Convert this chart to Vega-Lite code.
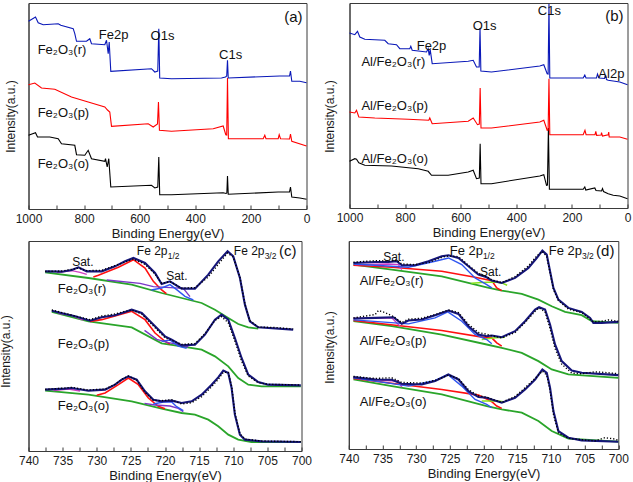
{
"$schema":"https://vega.github.io/schema/vega-lite/v6.json",
"padding":{"left":-1.5,"top":1,"right":0,"bottom":0},
"config":{
 "font":"Liberation Sans",
 "view":{"stroke":"#3a3a3a","strokeWidth":1},
 "axis":{"grid":false,"domainColor":"#3a3a3a","tickColor":"#3a3a3a","labelColor":"#1a1a1a","titleColor":"#1a1a1a","labelFont":"Liberation Sans","titleFont":"Liberation Sans","titleFontWeight":"normal"},
 "axisX":{"labelFontSize":12,"titleFontSize":13,"tickSize":-4,"labelPadding":8,"titlePadding":3,"labelOverlap":false,"labelFlush":false},
 "axisY":{"labels":false,"ticks":false,"titleFontSize":12,"titleAngle":-90,"titleBaseline":"bottom","titleAlign":"center"},
 "text":{"font":"Liberation Sans","color":"#111"}
},
"datasets":{
 "a":[
  {"s":"r","E":1000,"I":187.7},{"s":"r","E":974.8,"I":192},{"s":"r","E":965.1,"I":186.3},{"s":"r","E":947.1,"I":184.3},{"s":"r","E":893.2,"I":185.3},{"s":"r","E":883.8,"I":183.7},{"s":"r","E":839.2,"I":180.3},{"s":"r","E":833.5,"I":175.3},{"s":"r","E":827.3,"I":167.7},{"s":"r","E":791.4,"I":167.7},{"s":"r","E":779.5,"I":170.3},{"s":"r","E":773.4,"I":165.3},{"s":"r","E":725.5,"I":164.3},{"s":"r","E":719.4,"I":168.7},{"s":"r","E":713.3,"I":155.3},{"s":"r","E":709.7,"I":167},{"s":"r","E":704,"I":137.7},{"s":"r","E":557.6,"I":140.3},{"s":"r","E":545.7,"I":137},{"s":"r","E":535,"I":138},{"s":"r","E":531.3,"I":180.3},{"s":"r","E":528,"I":131},{"s":"r","E":485.6,"I":130.3},{"s":"r","E":305.8,"I":131},{"s":"r","E":291.4,"I":132},{"s":"r","E":287,"I":133},{"s":"r","E":284.2,"I":148.7},{"s":"r","E":281.5,"I":131},{"s":"r","E":96,"I":133},{"s":"r","E":61,"I":133},{"s":"r","E":57.6,"I":138},{"s":"r","E":52.9,"I":127.7},{"s":"r","E":24.1,"I":127.7},{"s":"r","E":0,"I":126.3},
  {"s":"p","E":1000,"I":124.3},{"s":"p","E":977.3,"I":126},{"s":"p","E":953.2,"I":121},{"s":"p","E":905.4,"I":119.7},{"s":"p","E":845.3,"I":112},{"s":"p","E":785.3,"I":107},{"s":"p","E":725.5,"I":102},{"s":"p","E":715.8,"I":99},{"s":"p","E":707.6,"I":97},{"s":"p","E":701.4,"I":82.7},{"s":"p","E":569.4,"I":85.3},{"s":"p","E":551.4,"I":82},{"s":"p","E":536,"I":85},{"s":"p","E":532.5,"I":107},{"s":"p","E":529,"I":78.7},{"s":"p","E":485.6,"I":77.7},{"s":"p","E":335.6,"I":80.3},{"s":"p","E":299.7,"I":83},{"s":"p","E":290.3,"I":74.3},{"s":"p","E":287,"I":74},{"s":"p","E":284.2,"I":131},{"s":"p","E":281,"I":70.3},{"s":"p","E":155.8,"I":70.3},{"s":"p","E":150,"I":73.7},{"s":"p","E":145.7,"I":70.3},{"s":"p","E":101.8,"I":70.3},{"s":"p","E":98.2,"I":74.3},{"s":"p","E":93.5,"I":70.3},{"s":"p","E":61,"I":70},{"s":"p","E":57.6,"I":75},{"s":"p","E":52.9,"I":67.7},{"s":"p","E":0,"I":63},
  {"s":"o","E":1000,"I":73.7},{"s":"o","E":974.8,"I":76.3},{"s":"o","E":967.6,"I":72},{"s":"o","E":923.4,"I":72},{"s":"o","E":893.2,"I":70.3},{"s":"o","E":881.3,"I":65.3},{"s":"o","E":833.5,"I":63.7},{"s":"o","E":827.3,"I":54.3},{"s":"o","E":797.5,"I":53.7},{"s":"o","E":785.3,"I":58.7},{"s":"o","E":773.4,"I":50.3},{"s":"o","E":725.5,"I":47.7},{"s":"o","E":723,"I":50.3},{"s":"o","E":716.9,"I":42},{"s":"o","E":711.2,"I":50.3},{"s":"o","E":704,"I":22},{"s":"o","E":557.6,"I":23.7},{"s":"o","E":545.7,"I":21},{"s":"o","E":535,"I":22},{"s":"o","E":531.3,"I":52},{"s":"o","E":528,"I":14.3},{"s":"o","E":485.6,"I":14.3},{"s":"o","E":299.7,"I":16.3},{"s":"o","E":289.6,"I":15.5},{"s":"o","E":286.5,"I":16},{"s":"o","E":284.2,"I":33},{"s":"o","E":281.5,"I":14.7},{"s":"o","E":101.8,"I":17},{"s":"o","E":61.2,"I":17},{"s":"o","E":57.6,"I":22},{"s":"o","E":52.9,"I":12},{"s":"o","E":24.1,"I":11},{"s":"o","E":0,"I":9.7}
 ],
 "b":[
  {"s":"r","E":1000,"I":175},{"s":"r","E":980.9,"I":173.3},{"s":"r","E":971.2,"I":176.7},{"s":"r","E":962.9,"I":171},{"s":"r","E":945,"I":168.7},{"s":"r","E":873,"I":167.7},{"s":"r","E":860.8,"I":164.3},{"s":"r","E":830.9,"I":163.3},{"s":"r","E":819.1,"I":159.3},{"s":"r","E":783.1,"I":159.3},{"s":"r","E":779.5,"I":161.7},{"s":"r","E":774.5,"I":157.7},{"s":"r","E":723,"I":156},{"s":"r","E":716.9,"I":159.3},{"s":"r","E":713.3,"I":152.7},{"s":"r","E":709.7,"I":158.3},{"s":"r","E":702.5,"I":144.3},{"s":"r","E":573,"I":146.7},{"s":"r","E":555,"I":147.7},{"s":"r","E":543.2,"I":141},{"s":"r","E":533.5,"I":141},{"s":"r","E":530.5,"I":180},{"s":"r","E":527.5,"I":137},{"s":"r","E":489.3,"I":136},{"s":"r","E":315.5,"I":142},{"s":"r","E":301.1,"I":143.3},{"s":"r","E":288.9,"I":134.3},{"s":"r","E":285.5,"I":134},{"s":"r","E":282.5,"I":204},{"s":"r","E":279.5,"I":130},{"s":"r","E":159.4,"I":130},{"s":"r","E":153.6,"I":133},{"s":"r","E":149.3,"I":130},{"s":"r","E":111.5,"I":130},{"s":"r","E":107.9,"I":134},{"s":"r","E":102.5,"I":130},{"s":"r","E":82.7,"I":129.5},{"s":"r","E":79.1,"I":133},{"s":"r","E":75.5,"I":128.5},{"s":"r","E":69.4,"I":127.7},{"s":"r","E":27.7,"I":126},{"s":"r","E":0,"I":123.3},
  {"s":"p","E":1000,"I":96},{"s":"p","E":980.9,"I":95},{"s":"p","E":974.8,"I":97.7},{"s":"p","E":966.5,"I":91},{"s":"p","E":909,"I":90},{"s":"p","E":788.8,"I":88.7},{"s":"p","E":714.8,"I":87.7},{"s":"p","E":711.2,"I":90},{"s":"p","E":702.5,"I":84.3},{"s":"p","E":573,"I":86.7},{"s":"p","E":555,"I":90},{"s":"p","E":539.6,"I":83.3},{"s":"p","E":533,"I":84},{"s":"p","E":530,"I":120},{"s":"p","E":527,"I":80},{"s":"p","E":489.3,"I":80},{"s":"p","E":315.5,"I":86},{"s":"p","E":301.1,"I":87.7},{"s":"p","E":288.9,"I":77.7},{"s":"p","E":285.5,"I":78},{"s":"p","E":282.5,"I":129.3},{"s":"p","E":279.5,"I":73.3},{"s":"p","E":159.4,"I":73.3},{"s":"p","E":153,"I":77.7},{"s":"p","E":149,"I":73.3},{"s":"p","E":116.9,"I":73.3},{"s":"p","E":114,"I":76.7},{"s":"p","E":111,"I":72.7},{"s":"p","E":95,"I":73},{"s":"p","E":93.5,"I":75.3},{"s":"p","E":90,"I":72},{"s":"p","E":69.4,"I":73.3},{"s":"p","E":67.5,"I":76},{"s":"p","E":65.8,"I":71},{"s":"p","E":27.7,"I":71},{"s":"p","E":0,"I":68.7},
  {"s":"o","E":1000,"I":46.7},{"s":"o","E":980.9,"I":49.3},{"s":"o","E":974.8,"I":48.7},{"s":"o","E":966.5,"I":45.3},{"s":"o","E":945,"I":42.7},{"s":"o","E":848.9,"I":42},{"s":"o","E":752.9,"I":39.3},{"s":"o","E":716.9,"I":36.7},{"s":"o","E":705,"I":32.7},{"s":"o","E":645,"I":32.7},{"s":"o","E":573,"I":36},{"s":"o","E":555,"I":37.7},{"s":"o","E":543.2,"I":29.3},{"s":"o","E":533,"I":30},{"s":"o","E":530,"I":64.3},{"s":"o","E":527,"I":24.3},{"s":"o","E":489.3,"I":24.3},{"s":"o","E":315.5,"I":32},{"s":"o","E":301.1,"I":33.3},{"s":"o","E":291.4,"I":22.7},{"s":"o","E":288,"I":23},{"s":"o","E":284.5,"I":80},{"s":"o","E":281,"I":18.7},{"s":"o","E":159.4,"I":18.7},{"s":"o","E":153.6,"I":21},{"s":"o","E":150,"I":18},{"s":"o","E":117.6,"I":20},{"s":"o","E":113.3,"I":17.5},{"s":"o","E":93.5,"I":17},{"s":"o","E":89.9,"I":19.5},{"s":"o","E":86.3,"I":16.5},{"s":"o","E":69.4,"I":14.3},{"s":"o","E":51.4,"I":12.7},{"s":"o","E":27.7,"I":12},{"s":"o","E":0,"I":9.3}
 ],
 "c":[
  {"g":"r","s":"env","E":737.56,"I":539},{"g":"r","s":"env","E":735.12,"I":538},{"g":"r","s":"env","E":733.66,"I":543},{"g":"r","s":"env","E":732.68,"I":551},{"g":"r","s":"env","E":731.46,"I":539},{"g":"r","s":"env","E":729.27,"I":539},{"g":"r","s":"env","E":727.32,"I":554},{"g":"r","s":"env","E":725.85,"I":569},{"g":"r","s":"env","E":724.63,"I":579},{"g":"r","s":"env","E":722.93,"I":564},{"g":"r","s":"env","E":721.46,"I":534},{"g":"r","s":"env","E":720.49,"I":501},{"g":"r","s":"env","E":719.27,"I":509},{"g":"r","s":"env","E":717.56,"I":487},{"g":"r","s":"env","E":715.61,"I":487},{"g":"r","s":"env","E":713.66,"I":529},{"g":"r","s":"env","E":712.2,"I":569},{"g":"r","s":"env","E":710.83,"I":599},{"g":"r","s":"env","E":710,"I":584},{"g":"r","s":"env","E":709.02,"I":519},{"g":"r","s":"env","E":708.29,"I":439},{"g":"r","s":"env","E":707.56,"I":389},{"g":"r","s":"env","E":706.34,"I":371},{"g":"r","s":"env","E":701.22,"I":364},
  {"g":"r","s":"bg","E":737.56,"I":536},{"g":"r","s":"bg","E":731.22,"I":519},{"g":"r","s":"bg","E":724.88,"I":499},{"g":"r","s":"bg","E":720.49,"I":474},{"g":"r","s":"bg","E":717.56,"I":459},{"g":"r","s":"bg","E":714.63,"I":444},{"g":"r","s":"bg","E":712.68,"I":424},{"g":"r","s":"bg","E":710.73,"I":399},{"g":"r","s":"bg","E":709.27,"I":381},{"g":"r","s":"bg","E":707.8,"I":371},{"g":"r","s":"bg","E":706.34,"I":367},
  {"g":"r","s":"red","E":730.5,"I":522},{"g":"r","s":"red","E":729.76,"I":527},{"g":"r","s":"red","E":726.83,"I":551},{"g":"r","s":"red","E":724.63,"I":574},{"g":"r","s":"red","E":722.93,"I":549},{"g":"r","s":"red","E":721.71,"I":509},{"g":"r","s":"red","E":720.49,"I":483},{"g":"r","s":"red","E":719.8,"I":472},
  {"g":"r","s":"blue","E":722.0,"I":483},{"g":"r","s":"blue","E":720.49,"I":489},{"g":"r","s":"blue","E":719.27,"I":499},{"g":"r","s":"blue","E":718.29,"I":484},{"g":"r","s":"blue","E":717.07,"I":464},{"g":"r","s":"blue","E":715.85,"I":453},
  {"g":"r","s":"pur","E":728.54,"I":513},{"g":"r","s":"pur","E":723.66,"I":503},{"g":"r","s":"pur","E":721.71,"I":493},{"g":"r","s":"pur","E":717.32,"I":488},{"g":"r","s":"pur","E":716.34,"I":463},
  {"g":"r","s":"mag","E":735.85,"I":535},{"g":"r","s":"mag","E":733.66,"I":541},{"g":"r","s":"mag","E":732.44,"I":536},{"g":"r","s":"mag","E":731.46,"I":530},
  {"g":"r","s":"dot","E":737.56,"I":539},{"g":"r","s":"dot","E":735.12,"I":540},{"g":"r","s":"dot","E":733.66,"I":545},{"g":"r","s":"dot","E":732.68,"I":549},{"g":"r","s":"dot","E":731.46,"I":541},{"g":"r","s":"dot","E":729.27,"I":542},{"g":"r","s":"dot","E":727.32,"I":556},{"g":"r","s":"dot","E":725.85,"I":567},{"g":"r","s":"dot","E":724.63,"I":576},{"g":"r","s":"dot","E":722.93,"I":560},{"g":"r","s":"dot","E":721.46,"I":531},{"g":"r","s":"dot","E":720.49,"I":503},{"g":"r","s":"dot","E":719.27,"I":508},{"g":"r","s":"dot","E":717.56,"I":489},{"g":"r","s":"dot","E":715.61,"I":490},{"g":"r","s":"dot","E":713.66,"I":522},{"g":"r","s":"dot","E":712.2,"I":560},{"g":"r","s":"dot","E":710.83,"I":594},{"g":"r","s":"dot","E":710,"I":582},{"g":"r","s":"dot","E":709.02,"I":521},{"g":"r","s":"dot","E":708.29,"I":441},{"g":"r","s":"dot","E":707.56,"I":391},{"g":"r","s":"dot","E":706.34,"I":372},{"g":"r","s":"dot","E":703.5,"I":370},{"g":"r","s":"dot","E":701.22,"I":366},
  {"g":"p","s":"env","E":736.59,"I":421},{"g":"p","s":"env","E":734.63,"I":411},{"g":"p","s":"env","E":733.17,"I":404},{"g":"p","s":"env","E":730.98,"I":391},{"g":"p","s":"env","E":729.27,"I":401},{"g":"p","s":"env","E":727.32,"I":407},{"g":"p","s":"env","E":725.85,"I":417},{"g":"p","s":"env","E":724.88,"I":424},{"g":"p","s":"env","E":723.41,"I":414},{"g":"p","s":"env","E":721.46,"I":374},{"g":"p","s":"env","E":720,"I":344},{"g":"p","s":"env","E":719.02,"I":334},{"g":"p","s":"env","E":717.56,"I":317},{"g":"p","s":"env","E":715.61,"I":319},{"g":"p","s":"env","E":714.15,"I":349},{"g":"p","s":"env","E":712.68,"I":394},{"g":"p","s":"env","E":711.71,"I":409},{"g":"p","s":"env","E":710.73,"I":394},{"g":"p","s":"env","E":709.76,"I":339},{"g":"p","s":"env","E":708.78,"I":279},{"g":"p","s":"env","E":707.8,"I":229},{"g":"p","s":"env","E":706.34,"I":207},{"g":"p","s":"env","E":704.88,"I":199},{"g":"p","s":"env","E":700.1,"I":197},
  {"g":"p","s":"bg","E":736.59,"I":417},{"g":"p","s":"bg","E":731.22,"I":389},{"g":"p","s":"bg","E":724.88,"I":371},{"g":"p","s":"bg","E":720.49,"I":323},{"g":"p","s":"bg","E":717.56,"I":314},{"g":"p","s":"bg","E":714.63,"I":304},{"g":"p","s":"bg","E":712.68,"I":284},{"g":"p","s":"bg","E":710.73,"I":254},{"g":"p","s":"bg","E":709.27,"I":219},{"g":"p","s":"bg","E":707.8,"I":199},{"g":"p","s":"bg","E":705.85,"I":194},{"g":"p","s":"bg","E":700.1,"I":194},
  {"g":"p","s":"red","E":731,"I":389},{"g":"p","s":"red","E":729.27,"I":394},{"g":"p","s":"red","E":724.88,"I":419},{"g":"p","s":"red","E":722.93,"I":394},{"g":"p","s":"red","E":721.46,"I":354},{"g":"p","s":"red","E":720,"I":329},{"g":"p","s":"red","E":719.27,"I":321},
  {"g":"p","s":"blue","E":720.49,"I":329},{"g":"p","s":"blue","E":719.27,"I":333},{"g":"p","s":"blue","E":718.05,"I":315},{"g":"p","s":"blue","E":716.83,"I":308},
  {"g":"p","s":"pur","E":723,"I":362},{"g":"p","s":"pur","E":721.2,"I":335},{"g":"p","s":"pur","E":719.5,"I":325},{"g":"p","s":"pur","E":717.6,"I":318},{"g":"p","s":"pur","E":716.6,"I":312},
  {"g":"p","s":"mag","E":735.61,"I":413},{"g":"p","s":"mag","E":733.66,"I":407},{"g":"p","s":"mag","E":731.95,"I":393},
  {"g":"p","s":"dot","E":736.59,"I":423},{"g":"p","s":"dot","E":734.63,"I":413},{"g":"p","s":"dot","E":733.17,"I":405},{"g":"p","s":"dot","E":730.98,"I":394},{"g":"p","s":"dot","E":729.27,"I":405},{"g":"p","s":"dot","E":727.32,"I":411},{"g":"p","s":"dot","E":725.85,"I":419},{"g":"p","s":"dot","E":724.88,"I":423},{"g":"p","s":"dot","E":723.41,"I":411},{"g":"p","s":"dot","E":721.46,"I":370},{"g":"p","s":"dot","E":720,"I":340},{"g":"p","s":"dot","E":719.02,"I":332},{"g":"p","s":"dot","E":717.56,"I":320},{"g":"p","s":"dot","E":715.61,"I":322},{"g":"p","s":"dot","E":714.15,"I":352},{"g":"p","s":"dot","E":712.68,"I":392},{"g":"p","s":"dot","E":711.71,"I":403},{"g":"p","s":"dot","E":710.73,"I":385},{"g":"p","s":"dot","E":709.76,"I":330},{"g":"p","s":"dot","E":708.78,"I":270},{"g":"p","s":"dot","E":707.8,"I":225},{"g":"p","s":"dot","E":706.34,"I":205},{"g":"p","s":"dot","E":704.88,"I":200},{"g":"p","s":"dot","E":702,"I":199},{"g":"p","s":"dot","E":700.1,"I":198},
  {"g":"o","s":"env","E":737.56,"I":184},{"g":"o","s":"env","E":734.63,"I":187},{"g":"o","s":"env","E":733.66,"I":189},{"g":"o","s":"env","E":731.22,"I":181},{"g":"o","s":"env","E":728.78,"I":184},{"g":"o","s":"env","E":727.32,"I":199},{"g":"o","s":"env","E":726.34,"I":214},{"g":"o","s":"env","E":725.37,"I":224},{"g":"o","s":"env","E":724.15,"I":214},{"g":"o","s":"env","E":722.93,"I":179},{"g":"o","s":"env","E":721.71,"I":154},{"g":"o","s":"env","E":720.49,"I":149},{"g":"o","s":"env","E":719.02,"I":151},{"g":"o","s":"env","E":717.56,"I":144},{"g":"o","s":"env","E":716.1,"I":149},{"g":"o","s":"env","E":714.63,"I":169},{"g":"o","s":"env","E":713.17,"I":199},{"g":"o","s":"env","E":712.2,"I":221},{"g":"o","s":"env","E":711.46,"I":241},{"g":"o","s":"env","E":710.73,"I":234},{"g":"o","s":"env","E":710.24,"I":189},{"g":"o","s":"env","E":709.76,"I":109},{"g":"o","s":"env","E":709.02,"I":49},{"g":"o","s":"env","E":708.29,"I":34},{"g":"o","s":"env","E":705.85,"I":29},{"g":"o","s":"env","E":700.1,"I":27},
  {"g":"o","s":"bg","E":737.56,"I":181},{"g":"o","s":"bg","E":731.22,"I":169},{"g":"o","s":"bg","E":724.88,"I":149},{"g":"o","s":"bg","E":720.49,"I":127},{"g":"o","s":"bg","E":717.56,"I":114},{"g":"o","s":"bg","E":715.61,"I":109},{"g":"o","s":"bg","E":713.66,"I":94},{"g":"o","s":"bg","E":712.2,"I":74},{"g":"o","s":"bg","E":710.73,"I":49},{"g":"o","s":"bg","E":709.27,"I":34},{"g":"o","s":"bg","E":707.32,"I":27},{"g":"o","s":"bg","E":700.1,"I":27},
  {"g":"o","s":"red","E":730,"I":167},{"g":"o","s":"red","E":728.78,"I":174},{"g":"o","s":"red","E":726.83,"I":199},{"g":"o","s":"red","E":725.37,"I":219},{"g":"o","s":"red","E":723.9,"I":199},{"g":"o","s":"red","E":722.44,"I":159},{"g":"o","s":"red","E":720.98,"I":134},{"g":"o","s":"red","E":720,"I":127},
  {"g":"o","s":"blue","E":721.71,"I":141},{"g":"o","s":"blue","E":720.24,"I":147},{"g":"o","s":"blue","E":719.02,"I":147},{"g":"o","s":"blue","E":718.29,"I":133},{"g":"o","s":"blue","E":717.32,"I":121},
  {"g":"o","s":"pur","E":723,"I":143},{"g":"o","s":"pur","E":721.5,"I":138},{"g":"o","s":"pur","E":719.27,"I":135},{"g":"o","s":"pur","E":718.05,"I":128},{"g":"o","s":"pur","E":717.32,"I":118},
  {"g":"o","s":"mag","E":736.34,"I":181},{"g":"o","s":"mag","E":734.15,"I":186},{"g":"o","s":"mag","E":732.44,"I":180},
  {"g":"o","s":"dot","E":737.56,"I":185},{"g":"o","s":"dot","E":734.63,"I":189},{"g":"o","s":"dot","E":733.66,"I":191},{"g":"o","s":"dot","E":731.22,"I":183},{"g":"o","s":"dot","E":728.78,"I":186},{"g":"o","s":"dot","E":727.32,"I":200},{"g":"o","s":"dot","E":726.34,"I":215},{"g":"o","s":"dot","E":725.37,"I":225},{"g":"o","s":"dot","E":724.15,"I":213},{"g":"o","s":"dot","E":722.93,"I":176},{"g":"o","s":"dot","E":721.71,"I":152},{"g":"o","s":"dot","E":720.49,"I":151},{"g":"o","s":"dot","E":719.02,"I":154},{"g":"o","s":"dot","E":717.56,"I":141},{"g":"o","s":"dot","E":716.1,"I":145},{"g":"o","s":"dot","E":714.63,"I":163},{"g":"o","s":"dot","E":713.17,"I":193},{"g":"o","s":"dot","E":712.2,"I":215},{"g":"o","s":"dot","E":711.46,"I":236},{"g":"o","s":"dot","E":710.73,"I":236},{"g":"o","s":"dot","E":710.24,"I":195},{"g":"o","s":"dot","E":709.76,"I":115},{"g":"o","s":"dot","E":709.02,"I":52},{"g":"o","s":"dot","E":708.29,"I":36},{"g":"o","s":"dot","E":705.85,"I":30},{"g":"o","s":"dot","E":700.1,"I":28}
 ],
 "d":[
  {"g":"r","s":"env","E":739.31,"I":559},{"g":"r","s":"env","E":736.09,"I":562},{"g":"r","s":"env","E":734.11,"I":562},{"g":"r","s":"env","E":732.88,"I":564},{"g":"r","s":"env","E":732.14,"I":552},{"g":"r","s":"env","E":730.16,"I":552},{"g":"r","s":"env","E":728.18,"I":564},{"g":"r","s":"env","E":726.2,"I":579},{"g":"r","s":"env","E":725.21,"I":582},{"g":"r","s":"env","E":723.73,"I":574},{"g":"r","s":"env","E":722.24,"I":549},{"g":"r","s":"env","E":720.76,"I":524},{"g":"r","s":"env","E":719.53,"I":516},{"g":"r","s":"env","E":718.78,"I":506},{"g":"r","s":"env","E":717.3,"I":499},{"g":"r","s":"env","E":715.32,"I":514},{"g":"r","s":"env","E":713.34,"I":544},{"g":"r","s":"env","E":712.11,"I":574},{"g":"r","s":"env","E":711.27,"I":596},{"g":"r","s":"env","E":710.62,"I":584},{"g":"r","s":"env","E":710.13,"I":534},{"g":"r","s":"env","E":709.63,"I":484},{"g":"r","s":"env","E":708.89,"I":449},{"g":"r","s":"env","E":707.41,"I":424},{"g":"r","s":"env","E":705.43,"I":412},{"g":"r","s":"env","E":704.19,"I":394},{"g":"r","s":"env","E":703.7,"I":379},{"g":"r","s":"env","E":702.46,"I":379},{"g":"r","s":"env","E":700,"I":382},
  {"g":"r","s":"bg","E":739.31,"I":554},{"g":"r","s":"bg","E":733.62,"I":539},{"g":"r","s":"bg","E":726.2,"I":519},{"g":"r","s":"bg","E":719.53,"I":486},{"g":"r","s":"bg","E":717.3,"I":476},{"g":"r","s":"bg","E":714.33,"I":466},{"g":"r","s":"bg","E":711.86,"I":449},{"g":"r","s":"bg","E":709.88,"I":429},{"g":"r","s":"bg","E":707.9,"I":412},{"g":"r","s":"bg","E":705.43,"I":402},{"g":"r","s":"bg","E":703.95,"I":384},{"g":"r","s":"bg","E":700,"I":379},
  {"g":"r","s":"red","E":739.31,"I":552},{"g":"r","s":"red","E":733.62,"I":546},{"g":"r","s":"red","E":726.2,"I":534},{"g":"r","s":"red","E":721.26,"I":516},{"g":"r","s":"red","E":718.78,"I":506},{"g":"r","s":"red","E":718.04,"I":484},{"g":"r","s":"red","E":717.3,"I":476},
  {"g":"r","s":"blue","E":739.31,"I":556},{"g":"r","s":"blue","E":731.15,"I":546},{"g":"r","s":"blue","E":727.19,"I":564},{"g":"r","s":"blue","E":725.21,"I":574},{"g":"r","s":"blue","E":723.23,"I":554},{"g":"r","s":"blue","E":721.26,"I":514},{"g":"r","s":"blue","E":719.53,"I":494},{"g":"r","s":"blue","E":718.78,"I":484},
  {"g":"r","s":"mag","E":739.06,"I":554},{"g":"r","s":"mag","E":734.11,"I":556},{"g":"r","s":"mag","E":732.63,"I":554},{"g":"r","s":"mag","E":732.14,"I":539},
  {"g":"r","s":"lime","E":721.8,"I":498},{"g":"r","s":"lime","E":720.27,"I":500},{"g":"r","s":"lime","E":718.29,"I":502},{"g":"r","s":"lime","E":717.3,"I":499},{"g":"r","s":"lime","E":716.5,"I":492},
  {"g":"r","s":"dot","E":739.31,"I":561},{"g":"r","s":"dot","E":736.09,"I":566},{"g":"r","s":"dot","E":734.11,"I":565},{"g":"r","s":"dot","E":732.88,"I":567},{"g":"r","s":"dot","E":732.14,"I":556},{"g":"r","s":"dot","E":730.16,"I":554},{"g":"r","s":"dot","E":728.18,"I":560},{"g":"r","s":"dot","E":726.2,"I":576},{"g":"r","s":"dot","E":725.21,"I":580},{"g":"r","s":"dot","E":723.73,"I":578},{"g":"r","s":"dot","E":722.24,"I":552},{"g":"r","s":"dot","E":720.76,"I":528},{"g":"r","s":"dot","E":719.53,"I":518},{"g":"r","s":"dot","E":718.78,"I":508},{"g":"r","s":"dot","E":717.3,"I":500},{"g":"r","s":"dot","E":715.32,"I":518},{"g":"r","s":"dot","E":713.34,"I":550},{"g":"r","s":"dot","E":712.11,"I":580},{"g":"r","s":"dot","E":711.27,"I":594},{"g":"r","s":"dot","E":710.62,"I":578},{"g":"r","s":"dot","E":710.13,"I":530},{"g":"r","s":"dot","E":709.63,"I":480},{"g":"r","s":"dot","E":708.89,"I":446},{"g":"r","s":"dot","E":707.41,"I":420},{"g":"r","s":"dot","E":705.43,"I":410},{"g":"r","s":"dot","E":704.19,"I":390},{"g":"r","s":"dot","E":703.7,"I":382},{"g":"r","s":"dot","E":702.46,"I":384},{"g":"r","s":"dot","E":701.5,"I":388},{"g":"r","s":"dot","E":700,"I":384},
  {"g":"p","s":"env","E":739.31,"I":392},{"g":"p","s":"env","E":736.09,"I":394},{"g":"p","s":"env","E":733.37,"I":396},{"g":"p","s":"env","E":732.14,"I":376},{"g":"p","s":"env","E":731.15,"I":386},{"g":"p","s":"env","E":729.17,"I":389},{"g":"p","s":"env","E":727.19,"I":402},{"g":"p","s":"env","E":725.21,"I":416},{"g":"p","s":"env","E":723.73,"I":406},{"g":"p","s":"env","E":722.24,"I":369},{"g":"p","s":"env","E":720.76,"I":344},{"g":"p","s":"env","E":719.53,"I":339},{"g":"p","s":"env","E":718.78,"I":341},{"g":"p","s":"env","E":717.3,"I":336},{"g":"p","s":"env","E":715.32,"I":354},{"g":"p","s":"env","E":713.84,"I":384},{"g":"p","s":"env","E":712.35,"I":419},{"g":"p","s":"env","E":711.76,"I":426},{"g":"p","s":"env","E":710.87,"I":419},{"g":"p","s":"env","E":710.13,"I":374},{"g":"p","s":"env","E":709.39,"I":314},{"g":"p","s":"env","E":708.4,"I":264},{"g":"p","s":"env","E":706.91,"I":236},{"g":"p","s":"env","E":705.43,"I":229},{"g":"p","s":"env","E":700,"I":222},
  {"g":"p","s":"bg","E":739.31,"I":384},{"g":"p","s":"bg","E":733.62,"I":369},{"g":"p","s":"bg","E":726.2,"I":344},{"g":"p","s":"bg","E":719.53,"I":314},{"g":"p","s":"bg","E":717.3,"I":304},{"g":"p","s":"bg","E":714.33,"I":289},{"g":"p","s":"bg","E":711.86,"I":264},{"g":"p","s":"bg","E":709.88,"I":239},{"g":"p","s":"bg","E":707.41,"I":224},{"g":"p","s":"bg","E":700,"I":214},
  {"g":"p","s":"red","E":739.31,"I":386},{"g":"p","s":"red","E":726.2,"I":356},{"g":"p","s":"red","E":719.53,"I":334},{"g":"p","s":"red","E":718.78,"I":334},{"g":"p","s":"red","E":718.04,"I":319},{"g":"p","s":"red","E":717.3,"I":309},
  {"g":"p","s":"blue","E":739.31,"I":388},{"g":"p","s":"blue","E":731.15,"I":376},{"g":"p","s":"blue","E":727.19,"I":394},{"g":"p","s":"blue","E":725.31,"I":412},{"g":"p","s":"blue","E":723.23,"I":384},{"g":"p","s":"blue","E":721.26,"I":344},{"g":"p","s":"blue","E":719.53,"I":329},{"g":"p","s":"blue","E":718.78,"I":316},
  {"g":"p","s":"mag","E":739.31,"I":392},{"g":"p","s":"mag","E":733.62,"I":394},{"g":"p","s":"mag","E":732.38,"I":369},
  {"g":"p","s":"lime","E":720.27,"I":329},{"g":"p","s":"lime","E":718.29,"I":334},{"g":"p","s":"lime","E":716.81,"I":336},
  {"g":"p","s":"dot","E":739.31,"I":394},{"g":"p","s":"dot","E":736.09,"I":404},{"g":"p","s":"dot","E":735.6,"I":416},{"g":"p","s":"dot","E":734.61,"I":410},{"g":"p","s":"dot","E":733.37,"I":398},{"g":"p","s":"dot","E":732.14,"I":380},{"g":"p","s":"dot","E":731.15,"I":390},{"g":"p","s":"dot","E":729.17,"I":393},{"g":"p","s":"dot","E":727.19,"I":404},{"g":"p","s":"dot","E":725.21,"I":418},{"g":"p","s":"dot","E":723.73,"I":410},{"g":"p","s":"dot","E":722.24,"I":375},{"g":"p","s":"dot","E":720.76,"I":350},{"g":"p","s":"dot","E":719.53,"I":345},{"g":"p","s":"dot","E":718.78,"I":340},{"g":"p","s":"dot","E":717.3,"I":334},{"g":"p","s":"dot","E":715.32,"I":350},{"g":"p","s":"dot","E":713.84,"I":380},{"g":"p","s":"dot","E":712.35,"I":414},{"g":"p","s":"dot","E":711.76,"I":424},{"g":"p","s":"dot","E":710.87,"I":412},{"g":"p","s":"dot","E":710.13,"I":362},{"g":"p","s":"dot","E":709.39,"I":302},{"g":"p","s":"dot","E":708.4,"I":255},{"g":"p","s":"dot","E":706.91,"I":228},{"g":"p","s":"dot","E":705.43,"I":226},{"g":"p","s":"dot","E":703.5,"I":232},{"g":"p","s":"dot","E":702,"I":230},{"g":"p","s":"dot","E":700,"I":226},
  {"g":"o","s":"env","E":739.31,"I":216},{"g":"o","s":"env","E":736.09,"I":209},{"g":"o","s":"env","E":733.62,"I":208},{"g":"o","s":"env","E":732.14,"I":196},{"g":"o","s":"env","E":729.17,"I":194},{"g":"o","s":"env","E":727.19,"I":204},{"g":"o","s":"env","E":725.21,"I":224},{"g":"o","s":"env","E":723.73,"I":209},{"g":"o","s":"env","E":722.24,"I":174},{"g":"o","s":"env","E":720.76,"I":156},{"g":"o","s":"env","E":719.53,"I":154},{"g":"o","s":"env","E":718.78,"I":149},{"g":"o","s":"env","E":717.3,"I":139},{"g":"o","s":"env","E":715.32,"I":154},{"g":"o","s":"env","E":713.84,"I":179},{"g":"o","s":"env","E":712.35,"I":209},{"g":"o","s":"env","E":711.27,"I":239},{"g":"o","s":"env","E":710.62,"I":229},{"g":"o","s":"env","E":710.13,"I":184},{"g":"o","s":"env","E":709.63,"I":114},{"g":"o","s":"env","E":708.89,"I":54},{"g":"o","s":"env","E":707.41,"I":34},{"g":"o","s":"env","E":705.43,"I":26},{"g":"o","s":"env","E":700,"I":22},
  {"g":"o","s":"bg","E":739.31,"I":209},{"g":"o","s":"bg","E":733.62,"I":189},{"g":"o","s":"bg","E":726.2,"I":164},{"g":"o","s":"bg","E":719.53,"I":129},{"g":"o","s":"bg","E":717.3,"I":119},{"g":"o","s":"bg","E":714.33,"I":109},{"g":"o","s":"bg","E":711.86,"I":84},{"g":"o","s":"bg","E":709.88,"I":54},{"g":"o","s":"bg","E":707.41,"I":31},{"g":"o","s":"bg","E":700,"I":22},
  {"g":"o","s":"red","E":739.31,"I":212},{"g":"o","s":"red","E":726.2,"I":179},{"g":"o","s":"red","E":720.76,"I":162},{"g":"o","s":"red","E":719.53,"I":150},{"g":"o","s":"red","E":718.78,"I":142},{"g":"o","s":"red","E":718.04,"I":129},{"g":"o","s":"red","E":717.3,"I":122},
  {"g":"o","s":"blue","E":739.31,"I":214},{"g":"o","s":"blue","E":731.15,"I":189},{"g":"o","s":"blue","E":727.19,"I":206},{"g":"o","s":"blue","E":725.31,"I":224},{"g":"o","s":"blue","E":723.23,"I":189},{"g":"o","s":"blue","E":721.26,"I":149},{"g":"o","s":"blue","E":719.53,"I":134},{"g":"o","s":"blue","E":718.78,"I":124},
  {"g":"o","s":"mag","E":739.31,"I":214},{"g":"o","s":"mag","E":734.61,"I":206},{"g":"o","s":"mag","E":732.63,"I":204},{"g":"o","s":"mag","E":732.14,"I":186},
  {"g":"o","s":"lime","E":720.27,"I":144},{"g":"o","s":"lime","E":717.79,"I":144},{"g":"o","s":"lime","E":716.81,"I":141},
  {"g":"o","s":"dot","E":739.31,"I":218},{"g":"o","s":"dot","E":736.09,"I":212},{"g":"o","s":"dot","E":733.62,"I":214},{"g":"o","s":"dot","E":732.14,"I":200},{"g":"o","s":"dot","E":729.17,"I":198},{"g":"o","s":"dot","E":727.19,"I":206},{"g":"o","s":"dot","E":725.21,"I":222},{"g":"o","s":"dot","E":723.73,"I":212},{"g":"o","s":"dot","E":722.24,"I":178},{"g":"o","s":"dot","E":720.76,"I":160},{"g":"o","s":"dot","E":719.53,"I":156},{"g":"o","s":"dot","E":718.78,"I":150},{"g":"o","s":"dot","E":717.3,"I":140},{"g":"o","s":"dot","E":715.32,"I":158},{"g":"o","s":"dot","E":713.84,"I":184},{"g":"o","s":"dot","E":712.35,"I":212},{"g":"o","s":"dot","E":711.27,"I":234},{"g":"o","s":"dot","E":710.62,"I":222},{"g":"o","s":"dot","E":710.13,"I":175},{"g":"o","s":"dot","E":709.63,"I":105},{"g":"o","s":"dot","E":708.89,"I":48},{"g":"o","s":"dot","E":707.41,"I":32},{"g":"o","s":"dot","E":705.43,"I":28},{"g":"o","s":"dot","E":703.5,"I":24},{"g":"o","s":"dot","E":702,"I":34},{"g":"o","s":"dot","E":700.5,"I":30},{"g":"o","s":"dot","E":700,"I":26}
 ],
 "ta":[
  {"k":"ann","t":"Fe2p","E":694,"I":174},{"k":"ann","t":"O1s","E":518,"I":173},{"k":"ann","t":"C1s","E":273,"I":154},{"k":"tag","t":"(a)","E":47,"I":192},
  {"k":"lab","t":"Fe₂O₃(r)","E":967,"I":159},{"k":"lab","t":"Fe₂O₃(p)","E":967,"I":96},{"k":"lab","t":"Fe₂O₃(o)","E":967,"I":45}
 ],
 "tb":[
  {"k":"ann","t":"Fe2p","E":705,"I":162},{"k":"ann","t":"O1s","E":514,"I":182},{"k":"ann","t":"C1s","E":281,"I":197},{"k":"ann","t":"Al2p","E":58,"I":134},{"k":"tag","t":"(b)","E":47,"I":192},
  {"k":"lab","t":"Al/Fe₂O₃(r)","E":957,"I":146},{"k":"lab","t":"Al/Fe₂O₃(p)","E":957,"I":102},{"k":"lab","t":"Al/Fe₂O₃(o)","E":957,"I":49}
 ],
 "tc":[
  {"k":"ann","t":"Sat.","E":732.04,"I":567},{"k":"ann","t":"Sat.","E":718.27,"I":525},
  {"k":"lab2","t":"Fe 2p","E":724.13,"I":600},{"k":"sub","t":"1/2","E":719.6,"I":585},
  {"k":"lab2","t":"Fe 2p","E":709.92,"I":600},{"k":"sub","t":"3/2","E":705.4,"I":585},
  {"k":"tag","t":"(c)","E":702.0,"I":600},
  {"k":"lab","t":"Fe₂O₃(r)","E":735.71,"I":486},{"k":"lab","t":"Fe₂O₃(p)","E":735.71,"I":321},{"k":"lab","t":"Fe₂O₃(o)","E":735.71,"I":135}
 ],
 "td":[
  {"k":"ann","t":"Sat.","E":733.32,"I":577},{"k":"ann","t":"Sat.","E":718.93,"I":532},
  {"k":"lab2","t":"Fe 2p","E":725.01,"I":595},{"k":"sub","t":"1/2","E":720.1,"I":580},
  {"k":"lab2","t":"Fe 2p","E":710.33,"I":595},{"k":"sub","t":"3/2","E":705.4,"I":580},
  {"k":"tag","t":"(d)","E":701.94,"I":595},
  {"k":"lab","t":"Al/Fe₂O₃(r)","E":738.37,"I":505},{"k":"lab","t":"Al/Fe₂O₃(p)","E":738.37,"I":325},{"k":"lab","t":"Al/Fe₂O₃(o)","E":738.37,"I":142}
 ],
 "rc":[{"E":724.7},{"E":711.07}],
 "rd":[{"E":725},{"E":711.1}]
},
"spacing":-8,
"vconcat":[
 {"bounds":"flush","spacing":43,"hconcat":[
  {"width":278,"height":206,"data":{"name":"a"},
   "encoding":{
    "x":{"field":"E","type":"quantitative","scale":{"domain":[0,1000],"reverse":true,"nice":false,"zero":false},"axis":{"title":"Binding Energy(eV)","values":[0,100,200,300,400,500,600,700,800,900,1000],"format":"d","labelExpr":"datum.value % 200 === 0 ? datum.label : ''"}},
    "y":{"field":"I","type":"quantitative","scale":{"domain":[0,206],"nice":false,"zero":false},"axis":{"title":"Intensity(a.u.)","titleX":-11,"titleY":113}}
   },
   "layer":[
    {"transform":[{"filter":"datum.s==='o'"}],"mark":{"type":"line","color":"#000000","strokeWidth":1.1}},
    {"transform":[{"filter":"datum.s==='p'"}],"mark":{"type":"line","color":"#ff0000","strokeWidth":1.1}},
    {"transform":[{"filter":"datum.s==='r'"}],"mark":{"type":"line","color":"#0a18b8","strokeWidth":1.1}},
    {"data":{"name":"ta"},"transform":[{"filter":"datum.k==='ann'"}],"mark":{"type":"text","align":"center","baseline":"middle","fontSize":13},"encoding":{"text":{"field":"t"}}},
    {"data":{"name":"ta"},"transform":[{"filter":"datum.k==='tag'"}],"mark":{"type":"text","align":"center","baseline":"middle","fontSize":15},"encoding":{"text":{"field":"t"}}},
    {"data":{"name":"ta"},"transform":[{"filter":"datum.k==='lab'"}],"mark":{"type":"text","align":"left","baseline":"middle","fontSize":13},"encoding":{"text":{"field":"t"}}}
   ]},
  {"width":278,"height":205,"data":{"name":"b"},
   "encoding":{
    "x":{"field":"E","type":"quantitative","scale":{"domain":[0,1000],"reverse":true,"nice":false,"zero":false},"axis":{"title":"Binding Energy(eV)","values":[0,100,200,300,400,500,600,700,800,900,1000],"format":"d","labelExpr":"datum.value % 200 === 0 ? datum.label : ''"}},
    "y":{"field":"I","type":"quantitative","scale":{"domain":[0,205],"nice":false,"zero":false},"axis":{"title":"Intensity(a.u.)","titleX":-13,"titleY":113}}
   },
   "layer":[
    {"transform":[{"filter":"datum.s==='o'"}],"mark":{"type":"line","color":"#000000","strokeWidth":1.1}},
    {"transform":[{"filter":"datum.s==='p'"}],"mark":{"type":"line","color":"#ff0000","strokeWidth":1.1}},
    {"transform":[{"filter":"datum.s==='r'"}],"mark":{"type":"line","color":"#0a18b8","strokeWidth":1.1}},
    {"data":{"name":"tb"},"transform":[{"filter":"datum.k==='ann'"}],"mark":{"type":"text","align":"center","baseline":"middle","fontSize":13},"encoding":{"text":{"field":"t"}}},
    {"data":{"name":"tb"},"transform":[{"filter":"datum.k==='tag'"}],"mark":{"type":"text","align":"center","baseline":"middle","fontSize":15},"encoding":{"text":{"field":"t"}}},
    {"data":{"name":"tb"},"transform":[{"filter":"datum.k==='lab'"}],"mark":{"type":"text","align":"left","baseline":"middle","fontSize":13},"encoding":{"text":{"field":"t"}}}
   ]}
 ]},
 {"bounds":"flush","spacing":47.3,"hconcat":[
  {"width":273,"height":210,"data":{"name":"c"},
   "encoding":{
    "x":{"field":"E","type":"quantitative","scale":{"domain":[700,740],"reverse":true,"nice":false,"zero":false},"axis":{"title":"Binding Energy(eV)","values":[700,702.5,705,707.5,710,712.5,715,717.5,720,722.5,725,727.5,730,732.5,735,737.5,740],"format":"d","labelExpr":"datum.value % 5 === 0 ? datum.label : ''"}},
    "y":{"field":"I","type":"quantitative","scale":{"domain":[0,630],"nice":false,"zero":false},"axis":{"title":"Intensity(a.u.)","titleX":-15.7,"titleY":110}}
   },
   "layer":[
    {"data":{"name":"rc"},"mark":{"type":"rule","color":"#333333","strokeWidth":0.8,"strokeDash":[4,3]},"encoding":{"y":{"datum":0},"y2":{"datum":630}}},
    {"transform":[{"filter":"datum.s==='bg'"}],"mark":{"type":"line","color":"#2aa52a","strokeWidth":1.8},"encoding":{"detail":{"field":"g"}}},
    {"transform":[{"filter":"datum.s==='red'"}],"mark":{"type":"line","color":"#ff1010","strokeWidth":1.6},"encoding":{"detail":{"field":"g"}}},
    {"transform":[{"filter":"datum.s==='pur'"}],"mark":{"type":"line","color":"#7b35c8","strokeWidth":1.4},"encoding":{"detail":{"field":"g"}}},
    {"transform":[{"filter":"datum.s==='mag'"}],"mark":{"type":"line","color":"#d040c0","strokeWidth":1.4},"encoding":{"detail":{"field":"g"}}},
    {"transform":[{"filter":"datum.s==='blue'"}],"mark":{"type":"line","color":"#2f55f0","strokeWidth":1.4},"encoding":{"detail":{"field":"g"}}},
    {"transform":[{"filter":"datum.s==='env'"}],"mark":{"type":"line","color":"#15157a","strokeWidth":2.1},"encoding":{"detail":{"field":"g"}}},
    {"transform":[{"filter":"datum.s==='dot'"}],"mark":{"type":"line","color":"#000000","strokeWidth":1.4,"strokeDash":[1.2,2]},"encoding":{"detail":{"field":"g"}}},
    {"data":{"name":"tc"},"transform":[{"filter":"datum.k==='ann'"}],"mark":{"type":"text","align":"center","baseline":"middle","fontSize":12},"encoding":{"text":{"field":"t"}}},
    {"data":{"name":"tc"},"transform":[{"filter":"datum.k==='lab2'"}],"mark":{"type":"text","align":"left","baseline":"middle","fontSize":12},"encoding":{"text":{"field":"t"}}},
    {"data":{"name":"tc"},"transform":[{"filter":"datum.k==='sub'"}],"mark":{"type":"text","align":"left","baseline":"middle","fontSize":8.5},"encoding":{"text":{"field":"t"}}},
    {"data":{"name":"tc"},"transform":[{"filter":"datum.k==='tag'"}],"mark":{"type":"text","align":"center","baseline":"middle","fontSize":15},"encoding":{"text":{"field":"t"}}},
    {"data":{"name":"tc"},"transform":[{"filter":"datum.k==='lab'"}],"mark":{"type":"text","align":"left","baseline":"middle","fontSize":13},"encoding":{"text":{"field":"t"}}}
   ]},
  {"width":269.5,"height":208,"data":{"name":"d"},
   "encoding":{
    "x":{"field":"E","type":"quantitative","scale":{"domain":[700,740],"reverse":true,"nice":false,"zero":false},"axis":{"title":"Binding Energy(eV)","values":[700,702.5,705,707.5,710,712.5,715,717.5,720,722.5,725,727.5,730,732.5,735,737.5,740],"format":"d","labelExpr":"datum.value % 5 === 0 ? datum.label : ''"}},
    "y":{"field":"I","type":"quantitative","scale":{"domain":[0,625],"nice":false,"zero":false},"axis":{"title":"Intensity(a.u.)","titleX":-12,"titleY":106}}
   },
   "layer":[
    {"data":{"name":"rd"},"mark":{"type":"rule","color":"#6a7aa8","strokeWidth":0.9,"strokeDash":[1,1.5]},"encoding":{"y":{"datum":0},"y2":{"datum":625}}},
    {"transform":[{"filter":"datum.s==='bg'"}],"mark":{"type":"line","color":"#2aa52a","strokeWidth":1.8},"encoding":{"detail":{"field":"g"}}},
    {"transform":[{"filter":"datum.s==='red'"}],"mark":{"type":"line","color":"#ff1010","strokeWidth":1.6},"encoding":{"detail":{"field":"g"}}},
    {"transform":[{"filter":"datum.s==='mag'"}],"mark":{"type":"line","color":"#c83cc8","strokeWidth":1.4},"encoding":{"detail":{"field":"g"}}},
    {"transform":[{"filter":"datum.s==='lime'"}],"mark":{"type":"line","color":"#86e21c","strokeWidth":1.5},"encoding":{"detail":{"field":"g"}}},
    {"transform":[{"filter":"datum.s==='blue'"}],"mark":{"type":"line","color":"#2f55f0","strokeWidth":1.4},"encoding":{"detail":{"field":"g"}}},
    {"transform":[{"filter":"datum.s==='env'"}],"mark":{"type":"line","color":"#15157a","strokeWidth":2.1},"encoding":{"detail":{"field":"g"}}},
    {"transform":[{"filter":"datum.s==='dot'"}],"mark":{"type":"line","color":"#000000","strokeWidth":1.4,"strokeDash":[1.2,2]},"encoding":{"detail":{"field":"g"}}},
    {"data":{"name":"td"},"transform":[{"filter":"datum.k==='ann'"}],"mark":{"type":"text","align":"center","baseline":"middle","fontSize":12},"encoding":{"text":{"field":"t"}}},
    {"data":{"name":"td"},"transform":[{"filter":"datum.k==='lab2'"}],"mark":{"type":"text","align":"left","baseline":"middle","fontSize":13},"encoding":{"text":{"field":"t"}}},
    {"data":{"name":"td"},"transform":[{"filter":"datum.k==='sub'"}],"mark":{"type":"text","align":"left","baseline":"middle","fontSize":8.5},"encoding":{"text":{"field":"t"}}},
    {"data":{"name":"td"},"transform":[{"filter":"datum.k==='tag'"}],"mark":{"type":"text","align":"center","baseline":"middle","fontSize":15},"encoding":{"text":{"field":"t"}}},
    {"data":{"name":"td"},"transform":[{"filter":"datum.k==='lab'"}],"mark":{"type":"text","align":"left","baseline":"middle","fontSize":13},"encoding":{"text":{"field":"t"}}}
   ]}
 ]}
]
}
